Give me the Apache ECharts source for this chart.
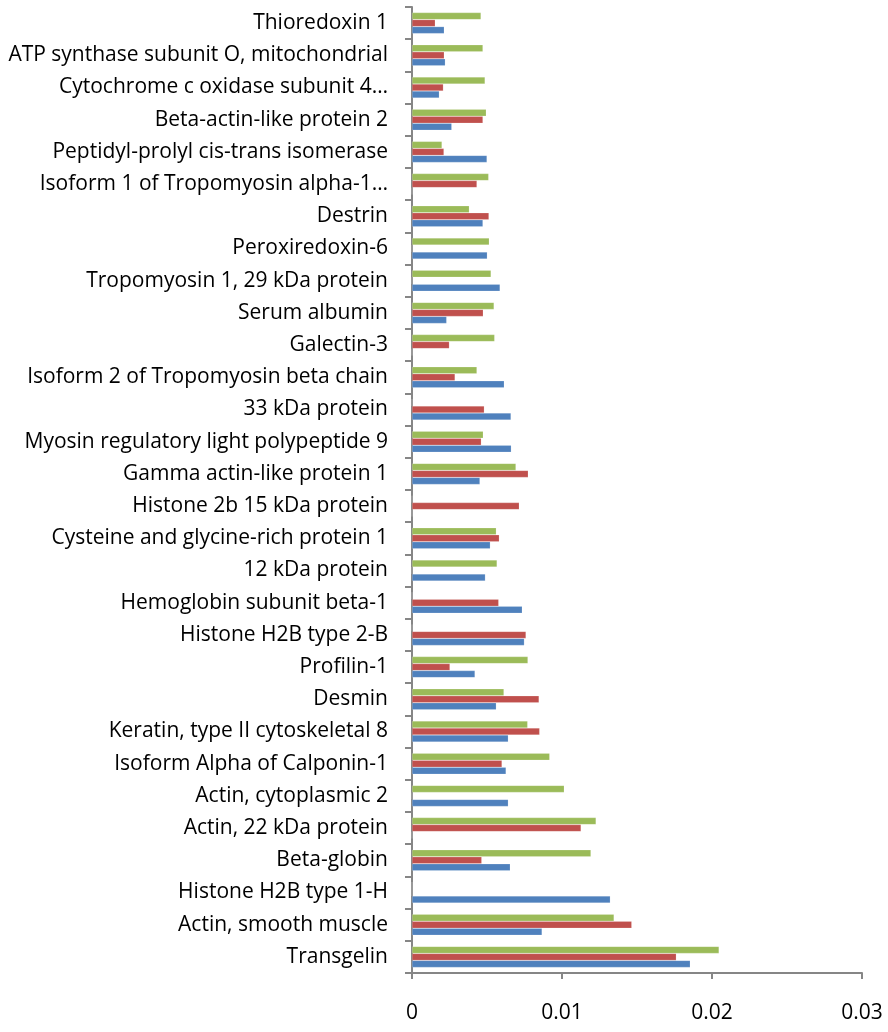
<!DOCTYPE html>
<html><head><meta charset="utf-8">
<script src="https://cdn.jsdelivr.net/npm/echarts@6/dist/echarts.min.js"></script>
<style>html,body{margin:0;padding:0;background:#fff}#c{width:888px;height:1032px}</style>
</head><body><div id="c"></div>
<script>
// categories listed bottom to top
const categories = [
  "Transgelin","Actin, smooth muscle","Histone H2B type 1-H","Beta-globin","Actin, 22 kDa protein",
  "Actin, cytoplasmic 2","Isoform Alpha of Calponin-1","Keratin, type II cytoskeletal 8","Desmin","Profilin-1",
  "Histone H2B type 2-B","Hemoglobin subunit beta-1","12 kDa protein","Cysteine and glycine-rich protein 1","Histone 2b 15 kDa protein",
  "Gamma actin-like protein 1","Myosin regulatory light polypeptide 9","33 kDa protein","Isoform 2 of Tropomyosin beta chain","Galectin-3",
  "Serum albumin","Tropomyosin 1, 29 kDa protein","Peroxiredoxin-6","Destrin","Isoform 1 of Tropomyosin alpha-1\u2026",
  "Peptidyl-prolyl cis-trans isomerase","Beta-actin-like protein 2","Cytochrome c oxidase subunit 4\u2026","ATP synthase subunit O, mitochondrial","Thioredoxin 1"
];
const blueValues = [0.01855,0.00867,0.01322,0.00655,0,
  0.00642,0.00627,0.00642,0.00562,0.0042,
  0.00749,0.00735,0.00489,0.00522,0,
  0.00453,0.00662,0.0066,0.00615,0,
  0.00231,0.00587,0.00502,0.00473,0,
  0.005,0.00265,0.00182,0.00222,0.00215];
const redValues = [0.01762,0.01465,0,0.00465,0.01127,
  0,0.006,0.00851,0.00847,0.00253,
  0.0076,0.00578,0,0.00582,0.00715,
  0.00775,0.00462,0.00482,0.00287,0.00249,
  0.00475,0,0,0.00513,0.00433,
  0.00213,0.00473,0.00209,0.00215,0.00155];
const greenValues = [0.02047,0.01347,0,0.01193,0.01227,
  0.01015,0.00918,0.00771,0.00613,0.00773,
  0,0,0.00567,0.00562,0,
  0.00693,0.00475,0,0.00433,0.00551,
  0.00547,0.00527,0.00515,0.00382,0.00511,
  0.002,0.00495,0.00487,0.00473,0.0046];
const xTickLabels = ["0","0.01","0.02","0.03"];

const chart = echarts.init(document.getElementById('c'), null, {renderer:'canvas'});
const font = '"Open Sans", Lato, sans-serif';
function mk(name, data, color){
  return {name, type:'bar', data, barWidth:7, barGap:'0%',
    itemStyle:{color, borderColor:'rgba(255,255,255,0.35)', borderWidth:0.5},
    emphasis:{disabled:true}, animation:false};
}
chart.setOption({
  animation:false,
  grid:{left:412, right:26, top:7, bottom:59, containLabel:false},
  xAxis:{type:'value', min:0, max:0.03, interval:0.01,
    axisLine:{show:true, lineStyle:{color:'#868686', width:2}},
    axisTick:{show:true, length:6, lineStyle:{color:'#868686', width:2}},
    splitLine:{show:false},
    axisLabel:{color:'#000', fontSize:21, fontFamily:font, margin:30,
      formatter:(v)=>{const i=Math.round(v/0.01); return xTickLabels[i]!==undefined?xTickLabels[i]:'';}}},
  yAxis:{type:'category', data:categories,
    axisLine:{show:true, lineStyle:{color:'#868686', width:2}},
    axisTick:{show:true, length:7, lineStyle:{color:'#868686', width:2}},
    axisLabel:{color:'#000', fontSize:21, fontFamily:font, margin:24, interval:0}},
  series:[
    mk('Series 3', greenValues, '#9BBB59'),
    mk('Series 2', redValues, '#C0504D'),
    mk('Series 1', blueValues, '#4F81BD')
  ]
});
</script></body></html>
